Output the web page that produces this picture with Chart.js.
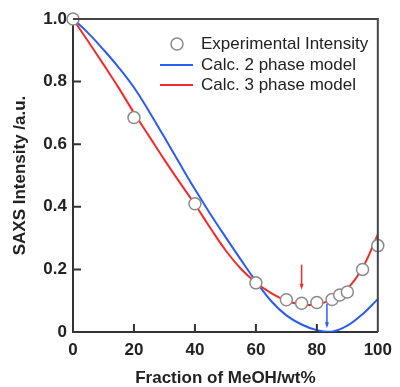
<!DOCTYPE html>
<html>
<head>
<meta charset="utf-8">
<script src="https://cdn.jsdelivr.net/npm/chart.js@4.4.0/dist/chart.umd.min.js"></script>
<style>
  body { margin: 0; background: #fff; }
  canvas { display: block; }
</style>
</head>
<body>
<canvas id="myChart" width="400" height="387"></canvas>
<script>
const ctx = document.getElementById('myChart').getContext('2d');

// experimental points
const fracExp = [0, 20, 40, 60, 70, 75, 80, 85, 87.5, 90, 95, 100];
const intExp = [1.0, 0.685, 0.41, 0.157, 0.103, 0.092, 0.094, 0.104, 0.118, 0.128, 0.2, 0.276];

// calculated curves
const fracCalc = [0, 5, 10, 15, 20, 25, 30, 35, 40, 45, 50, 55, 60, 65, 70, 75, 80, 85, 90, 95, 100];
const calc2 = [1.0, 0.955, 0.902, 0.845, 0.781, 0.704, 0.622, 0.538, 0.456, 0.378, 0.304, 0.232, 0.162, 0.099, 0.053, 0.024, 0.006, 0.001, 0.02, 0.057, 0.105];
const calc3 = [1.0, 0.928, 0.855, 0.78, 0.70, 0.625, 0.55, 0.478, 0.408, 0.333, 0.262, 0.203, 0.158, 0.124, 0.1, 0.088, 0.088, 0.104, 0.138, 0.205, 0.312];

// arrows marking the minima
const arrowX = [75, 83.3];
const arrowTop = [0.215, 0.09];
const arrowBottom = [0.135, 0.012];
const arrowColor = ['#f42b2b', '#2b5cf5'];

const labels = ['Experimental Intensity', 'Calc. 2 phase model', 'Calc. 3 phase model'];

const toXY = (xs, ys) => xs.map((x, i) => ({ x: x, y: ys[i] }));

const frame = {
    id: 'frame',
    afterDatasetsDraw(chart) {
        const c = chart.ctx;
        const a = chart.chartArea;
        const sx = chart.scales.x;
        const sy = chart.scales.y;
        c.save();
        // top and right border
        c.strokeStyle = '#444';
        c.lineWidth = 2;
        c.beginPath();
        c.moveTo(a.left, a.top);
        c.lineTo(a.right, a.top);
        c.lineTo(a.right, a.bottom);
        c.stroke();
        // inward ticks
        c.strokeStyle = '#333';
        c.beginPath();
        sx.ticks.forEach(t => {
            if (t.value <= sx.min || t.value >= sx.max) return;
            const px = sx.getPixelForValue(t.value);
            c.moveTo(px, a.bottom);
            c.lineTo(px, a.bottom - 8);
        });
        sy.ticks.forEach(t => {
            if (t.value <= sy.min || t.value >= sy.max) return;
            const py = sy.getPixelForValue(t.value);
            c.moveTo(a.left, py);
            c.lineTo(a.left + 8, py);
        });
        c.stroke();
        // arrows
        arrowX.forEach((x, i) => {
            const px = sx.getPixelForValue(x);
            const y1 = sy.getPixelForValue(arrowTop[i]);
            const y2 = sy.getPixelForValue(arrowBottom[i]);
            c.strokeStyle = arrowColor[i];
            c.fillStyle = arrowColor[i];
            c.lineWidth = 1.5;
            c.beginPath();
            c.moveTo(px, y1);
            c.lineTo(px, y2 - 5);
            c.stroke();
            c.beginPath();
            c.moveTo(px - 2, y2 - 6);
            c.lineTo(px + 2, y2 - 6);
            c.lineTo(px, y2);
            c.closePath();
            c.fill();
        });
        c.restore();
    },
    afterDraw(chart) {
        const c = chart.ctx;
        c.save();
        c.font = '17px "Liberation Sans", Arial, sans-serif';
        c.textBaseline = 'middle';
        const rows = [44, 65, 85];
        // marker
        c.beginPath();
        c.arc(177, rows[0], 6, 0, Math.PI * 2);
        c.fillStyle = '#fff';
        c.fill();
        c.strokeStyle = '#8a8a8a';
        c.lineWidth = 1.5;
        c.stroke();
        c.lineWidth = 2;
        c.strokeStyle = '#2b5cf5';
        c.beginPath();
        c.moveTo(160, rows[1]);
        c.lineTo(193, rows[1]);
        c.stroke();
        c.strokeStyle = '#f42b2b';
        c.beginPath();
        c.moveTo(160, rows[2]);
        c.lineTo(193, rows[2]);
        c.stroke();
        c.fillStyle = '#222';
        labels.forEach((t, i) => c.fillText(t, 201, rows[i]));
        c.restore();
    }
};

new Chart(ctx, {
    type: 'scatter',
    data: {
        datasets: [{
            label: labels[0],
            data: toXY(fracExp, intExp),
            pointRadius: 6,
            pointBackgroundColor: '#fff',
            pointBorderColor: '#8a8a8a',
            pointBorderWidth: 1.5,
            clip: false,
            order: 0
        }, {
            label: labels[1],
            data: toXY(fracCalc, calc2),
            showLine: true,
            borderColor: '#2b5cf5',
            borderWidth: 2,
            pointRadius: 0,
            tension: 0.4,
            order: 2
        }, {
            label: labels[2],
            data: toXY(fracCalc, calc3),
            showLine: true,
            borderColor: '#f42b2b',
            borderWidth: 2,
            pointRadius: 0,
            tension: 0.4,
            order: 1
        }]
    },
    options: {
        responsive: false,
        animation: false,
        layout: { padding: { left: 0, top: 19, right: 15, bottom: 0 } },
        plugins: {
            legend: { display: false },
            tooltip: { enabled: false }
        },
        scales: {
            x: {
                type: 'linear',
                min: 0,
                max: 100,
                afterFit: s => { s.height = 55; },
                grid: { drawOnChartArea: false, drawTicks: false },
                border: { display: true, color: '#333', width: 2 },
                ticks: {
                    stepSize: 20,
                    padding: 8,
                    color: '#222',
                    font: { family: '"Liberation Sans", Arial, sans-serif', size: 17, weight: 'bold' }
                },
                title: {
                    display: true,
                    text: 'Fraction of MeOH/wt%',
                    color: '#222',
                    padding: { top: 0, bottom: 0 },
                    font: { family: '"Liberation Sans", Arial, sans-serif', size: 17, weight: 'bold', lineHeight: 1 }
                }
            },
            y: {
                min: 0,
                max: 1,
                afterFit: s => { s.width = 73; },
                grid: { drawOnChartArea: false, drawTicks: false },
                border: { display: true, color: '#333', width: 2 },
                ticks: {
                    stepSize: 0.2,
                    padding: 6,
                    color: '#222',
                    callback: v => v === 0 ? '0' : v.toFixed(1),
                    font: { family: '"Liberation Sans", Arial, sans-serif', size: 17, weight: 'bold' }
                },
                title: {
                    display: true,
                    text: 'SAXS Intensity /a.u.',
                    color: '#222',
                    padding: { top: 12, bottom: 0 },
                    font: { family: '"Liberation Sans", Arial, sans-serif', size: 17, weight: 'bold', lineHeight: 1 }
                }
            }
        }
    },
    plugins: [frame]
});
</script>
</body>
</html>
